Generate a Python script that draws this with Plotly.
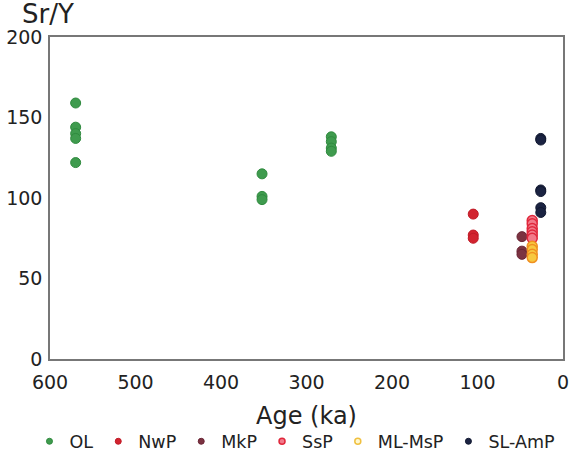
import plotly.graph_objects as go

series_names = ["OL", "NwP", "MkP", "SsP", "ML-MsP", "SL-AmP"]
ol_age = [570, 570, 570, 570, 570, 352, 352, 352, 271, 271, 271, 271]
ol_sry = [159, 144, 140, 137, 122, 115, 101, 99, 138, 135, 131, 129]
nwp_age = [105, 105, 105]
nwp_sry = [90, 77, 75]
mkp_age = [48, 48, 48]
mkp_sry = [76, 67, 65]
ssp_age = [36, 36, 36, 36, 36, 36]
ssp_sry = [86, 84, 81, 79, 77, 75]
mlmsp_age = [36, 36, 36, 36]
mlmsp_sry = [70, 68, 65, 63]
slamp_age = [26, 26, 26, 26, 26, 26]
slamp_sry = [137, 136, 105, 104, 94, 91]

x_ticks = [600, 500, 400, 300, 200, 100, 0]
y_ticks = [0, 50, 100, 150, 200]

styles = {
    "OL": dict(color="#3f9b4e", line=dict(color="#2f8a3e", width=1)),
    "NwP": dict(color="#d2232f", line=dict(color="#c01a26", width=1)),
    "MkP": dict(color="#7b3341", line=dict(color="#6a2535", width=1)),
    "SsP": dict(color="#f27a8a", line=dict(color="#e0283c", width=1.5)),
    "ML-MsP": dict(color="#f7c840", line=dict(color="#f09020", width=1.5)),
    "SL-AmP": dict(color="#1b2342", line=dict(color="#111830", width=1)),
}
data = {
    "OL": (ol_age, ol_sry),
    "NwP": (nwp_age, nwp_sry),
    "MkP": (mkp_age, mkp_sry),
    "SsP": (ssp_age, ssp_sry),
    "ML-MsP": (mlmsp_age, mlmsp_sry),
    "SL-AmP": (slamp_age, slamp_sry),
}

fig = go.Figure()
for name in series_names:
    xs, ys = data[name]
    st = styles[name]
    fig.add_trace(go.Scatter(x=xs, y=ys, mode="markers", name=name, showlegend=False,
                             marker=dict(size=10, color=st["color"], line=st["line"])))
for name in series_names:
    st = styles[name]
    if name == "ML-MsP":
        mk = dict(size=6, color="#fff8d0", line=dict(color="#f0c040", width=1.5))
    else:
        mk = dict(size=6, color=st["color"], line=st["line"])
    fig.add_trace(go.Scatter(x=[None], y=[None], mode="markers", name=name, marker=mk))

FONT = "DejaVu Sans, Verdana, sans-serif"
axis_font = dict(family=FONT, size=19, color="#222")
fig.update_layout(
    width=581, height=463,
    margin=dict(l=50, r=18, t=37, b=104, autoexpand=False),
    paper_bgcolor="white", plot_bgcolor="white",
    showlegend=True,
    legend=dict(orientation="h", x=-0.04, xanchor="left", y=-0.2, yanchor="top",
                font=dict(family=FONT, size=17.5, color="#222"),
                itemwidth=30, tracegroupgap=0),
    xaxis=dict(range=[600, 0], tickvals=x_ticks, showgrid=False, zeroline=False,
               showline=True, linecolor="#777", linewidth=1.5, mirror=True,
               ticks="", tickfont=axis_font, ticklabelstandoff=5, automargin=False,
               title=dict(text="Age (ka)", font=dict(family=FONT, size=24, color="#222"), standoff=16)),
    yaxis=dict(range=[0, 200], tickvals=y_ticks, showgrid=False, zeroline=False,
               showline=True, linecolor="#777", linewidth=1.5, mirror=True,
               ticks="", tickfont=axis_font, ticklabelstandoff=2, automargin=False),
    annotations=[dict(text="Sr/Y", x=-0.058, y=1.072, xref="paper", yref="paper",
                      xanchor="left", yanchor="middle", showarrow=False,
                      font=dict(family=FONT, size=26, color="#222"))],
)
fig.write_html("out.html", config={"displayModeBar": False},
               post_script="document.body.style.margin='0';document.body.style.padding='0';")
